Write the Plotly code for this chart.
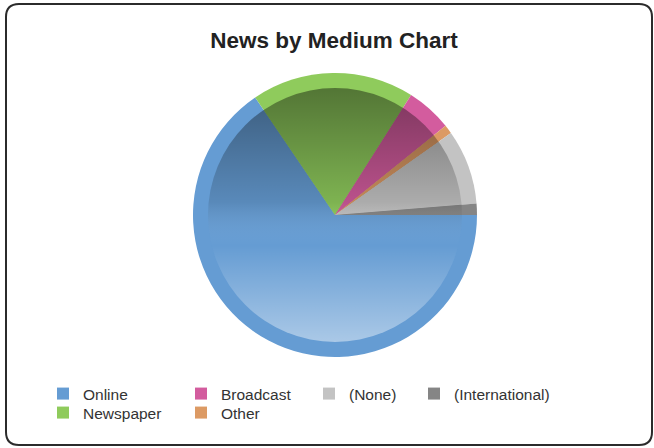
import base64
import plotly.graph_objects as go

# News items grouped by medium (share of total, %)
labels = ["Online", "Newspaper", "Broadcast", "Other", "(None)", "(International)"]
values = [65.5, 18.5, 5.2, 1.0, 8.5, 1.3]
colors = ["#659cd3", "#8fcb5c", "#d35c9e", "#dc9a64", "#c3c3c3", "#858585"]

W, H = 654, 448
CX, CY = 335, 215          # pie centre (px)
R_OUT, R_IN = 142, 127     # outer rim / inner face radii (px)

# legend entry anchors: text left edge (px) and row centre (px)
legend_pos = {
    "Online": (84, 394),
    "Newspaper": (84, 413),
    "Broadcast": (222, 394),
    "Other": (222, 413),
    "(None)": (350, 394),
    "(International)": (455, 394),
}

FONT = "Arial, Liberation Sans, sans-serif"


def px_x(x):
    return x / W


def px_y(y):
    return 1 - y / H


def domain(r):
    return dict(x=[px_x(CX - r), px_x(CX + r)], y=[px_y(CY + r), px_y(CY - r)])


fig = go.Figure()

# one single-entry pie per legend so each key can sit in its own column/row
tiny = dict(x=[px_x(CX) - 0.0005, px_x(CX) + 0.0005],
            y=[px_y(CY) - 0.0005, px_y(CY) + 0.0005])
for i, (lab, val, col) in enumerate(zip(labels, values, colors)):
    name = "legend" if i == 0 else f"legend{i + 1}"
    fig.add_trace(go.Pie(
        labels=[lab], values=[val], marker=dict(colors=[col], line=dict(width=0)),
        domain=tiny, textinfo="none", hoverinfo="skip", sort=False,
        showlegend=True, legend=name,
    ))

# outer rim
fig.add_trace(go.Pie(
    labels=labels, values=values, sort=False, direction="clockwise", rotation=90,
    marker=dict(colors=colors, line=dict(width=0)), domain=domain(R_OUT),
    textinfo="none", showlegend=False,
))
# inner face
fig.add_trace(go.Pie(
    labels=labels, values=values, sort=False, direction="clockwise", rotation=90,
    marker=dict(colors=colors, line=dict(width=0)), domain=domain(R_IN),
    textinfo="none", showlegend=False, hoverinfo="skip",
))

# vertical shading over the inner face: darker at the top, lighter at the bottom
shade_svg = (
    "<svg xmlns='http://www.w3.org/2000/svg' width='254' height='254' viewBox='0 0 254 254'>"
    "<defs><linearGradient id='g' x1='0' y1='0' x2='0' y2='1'>"
    "<stop offset='0' stop-color='#000' stop-opacity='0.42'/>"
    "<stop offset='0.45' stop-color='#000' stop-opacity='0.12'/>"
    "<stop offset='0.62' stop-color='#fff' stop-opacity='0'/>"
    "<stop offset='1' stop-color='#fff' stop-opacity='0.45'/>"
    "</linearGradient></defs>"
    "<circle cx='127' cy='127' r='127' fill='url(#g)'/></svg>"
)
shade_uri = "data:image/svg+xml;base64," + base64.b64encode(shade_svg.encode()).decode()

# rounded frame around the chart
fx0, fx1, fy0, fy1, rad = 6, 652, 4, 445, 13
rx, ry = rad / W, rad / H
x0, x1, y0, y1 = px_x(fx0), px_x(fx1), px_y(fy0), px_y(fy1)
frame = (
    f"M{x0 + rx},{y0} L{x1 - rx},{y0} Q{x1},{y0} {x1},{y0 - ry} "
    f"L{x1},{y1 + ry} Q{x1},{y1} {x1 - rx},{y1} "
    f"L{x0 + rx},{y1} Q{x0},{y1} {x0},{y1 + ry} "
    f"L{x0},{y0 - ry} Q{x0},{y0} {x0 + rx},{y0} Z"
)

legends = {}
for i, lab in enumerate(labels):
    name = "legend" if i == 0 else f"legend{i + 1}"
    tx, ty = legend_pos[lab]
    legends[name] = dict(
        x=px_x(tx - 41), y=px_y(ty), xanchor="left", yanchor="middle",
        orientation="v", bgcolor="rgba(0,0,0,0)", borderwidth=0,
        font=dict(family=FONT, size=15.5, color="#333333"),
    )

fig.update_layout(
    width=W, height=H, autosize=False,
    margin=dict(l=0, r=0, t=0, b=0),
    paper_bgcolor="white", plot_bgcolor="white",
    title=dict(
        text="News by Medium Chart", x=px_x(334), y=px_y(40),
        xanchor="center", yanchor="middle",
        font=dict(family=FONT, size=22.5, color="#222222", weight="bold"),
    ),
    images=[dict(
        source=shade_uri, xref="paper", yref="paper",
        x=px_x(CX - R_IN), y=px_y(CY - R_IN),
        sizex=2 * R_IN / W, sizey=2 * R_IN / H,
        xanchor="left", yanchor="top", sizing="stretch", layer="above",
    )],
    shapes=[dict(type="path", xref="paper", yref="paper", path=frame,
                 line=dict(color="#2b2b2b", width=2), fillcolor="rgba(0,0,0,0)")],
    **legends,
)

fig.write_html("out.html")
